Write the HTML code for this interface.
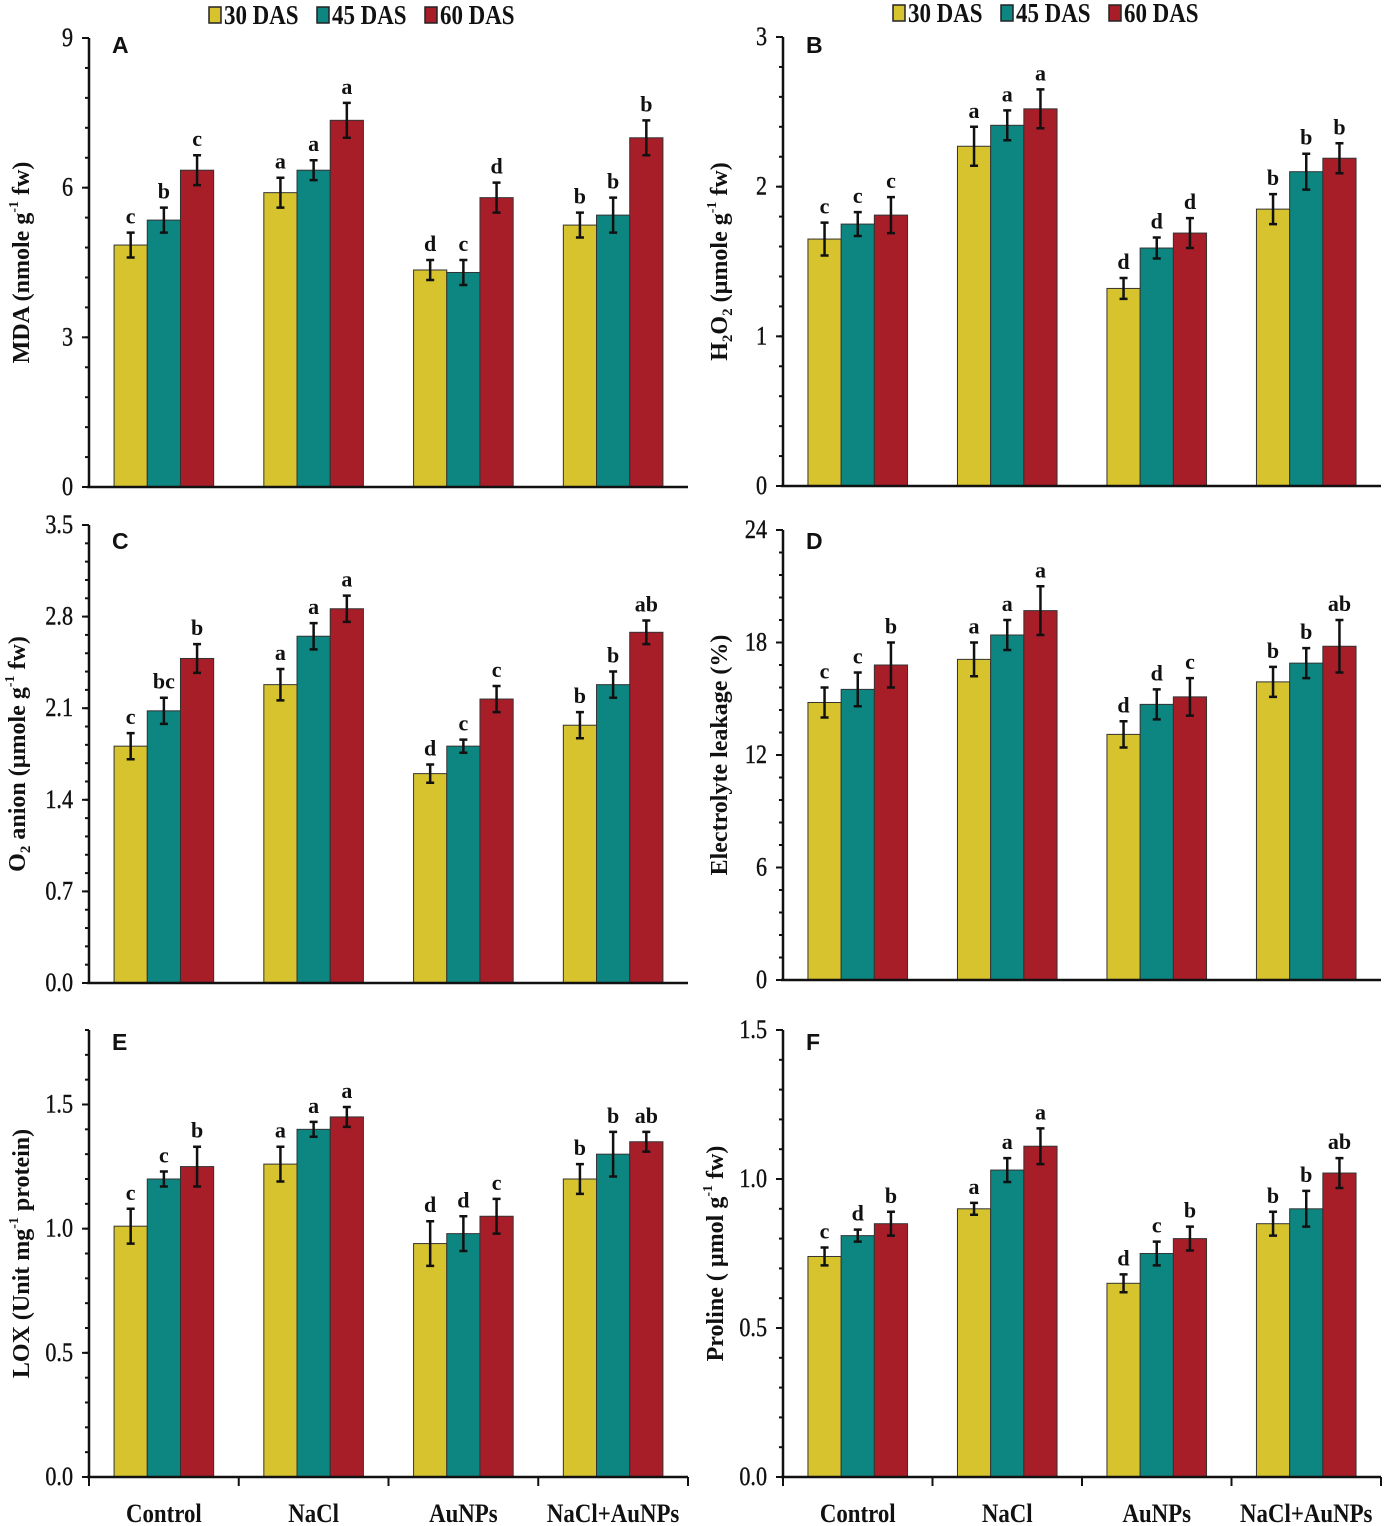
<!DOCTYPE html>
<html><head><meta charset="utf-8">
<style>
html,body{margin:0;padding:0;background:#fff;}
svg{display:block;}
text{font-family:"Liberation Serif",serif;}
</style></head>
<body>
<svg id="fig" width="1385" height="1526" viewBox="0 0 1385 1526" xmlns="http://www.w3.org/2000/svg"></svg>
<script>
const categories = ["Control","NaCl","AuNPs","NaCl+AuNPs"];
const seriesNames = ["30 DAS","45 DAS","60 DAS"];
const colors = ["#d6c32e","#0d8580","#a71e29"];

const valsA = [[4.85,5.9,4.35,5.25],[5.35,6.35,4.3,5.45],[6.35,7.35,5.8,7.0]];
const errA  = [[0.25,0.3,0.2,0.25],[0.25,0.2,0.25,0.35],[0.3,0.35,0.3,0.35]];
const letA  = [["c","a","d","b"],["b","a","c","b"],["c","a","d","b"]];

const valsB = [[1.65,2.27,1.32,1.85],[1.75,2.41,1.59,2.1],[1.81,2.52,1.69,2.19]];
const errB  = [[0.11,0.13,0.07,0.1],[0.08,0.1,0.07,0.12],[0.12,0.13,0.1,0.1]];
const letB  = [["c","a","d","b"],["c","a","d","b"],["c","a","d","b"]];

const valsC = [[1.81,2.28,1.6,1.97],[2.08,2.65,1.81,2.28],[2.48,2.86,2.17,2.68]];
const errC  = [[0.1,0.12,0.07,0.1],[0.1,0.1,0.05,0.1],[0.11,0.1,0.1,0.09]];
const letC  = [["c","a","d","b"],["bc","a","c","b"],["b","a","c","ab"]];

const valsD = [[14.8,17.1,13.1,15.9],[15.5,18.4,14.7,16.9],[16.8,19.7,15.1,17.8]];
const errD  = [[0.8,0.9,0.7,0.8],[0.9,0.8,0.8,0.8],[1.2,1.3,1.0,1.4]];
const letD  = [["c","a","d","b"],["c","a","d","b"],["b","a","c","ab"]];

const valsE = [[1.01,1.26,0.94,1.2],[1.2,1.4,0.98,1.3],[1.25,1.45,1.05,1.35]];
const errE  = [[0.07,0.07,0.09,0.06],[0.03,0.03,0.07,0.09],[0.08,0.04,0.07,0.04]];
const letE  = [["c","a","d","b"],["c","a","d","b"],["b","a","c","ab"]];

const valsF = [[0.74,0.9,0.65,0.85],[0.81,1.03,0.75,0.9],[0.85,1.11,0.8,1.02]];
const errF  = [[0.03,0.02,0.03,0.04],[0.02,0.04,0.04,0.06],[0.04,0.06,0.04,0.05]];
const letF  = [["c","a","d","b"],["d","a","c","b"],["b","a","b","ab"]];

const ticksA = ["0","3","6","9"];
const ticksB = ["0","1","2","3"];
const ticksC = ["0.0","0.7","1.4","2.1","2.8","3.5"];
const ticksD = ["0","6","12","18","24"];
const ticksE = ["0.0","0.5","1.0","1.5"];
const ticksF = ["0.0","0.5","1.0","1.5"];

const NS="http://www.w3.org/2000/svg";
const svg=document.getElementById('fig');
function mk(tag,attrs,parent,txt){const e=document.createElementNS(NS,tag);for(const k in attrs)e.setAttribute(k,attrs[k]);if(txt!==undefined)e.textContent=txt;(parent||svg).appendChild(e);return e;}

const panels=[
 {id:"a",label:"A",x0:89,x1:688,y0:487,yTop:38,max:9,ticks:ticksA,vals:valsA,err:errA,let:letA,title:"MDA (nmole g<tspan baseline-shift='super' font-size='14'>-1</tspan> fw)",tx:22},
 {id:"b",label:"B",x0:783,x1:1381,y0:486,yTop:37,max:3,ticks:ticksB,vals:valsB,err:errB,let:letB,title:"H<tspan baseline-shift='sub' font-size='15'>2</tspan>O<tspan baseline-shift='sub' font-size='15'>2</tspan> (µmole g<tspan baseline-shift='super' font-size='14'>-1</tspan> fw)",tx:720},
 {id:"c",label:"C",x0:89,x1:688,y0:983,yTop:525,max:3.5,ticks:ticksC,vals:valsC,err:errC,let:letC,title:"O<tspan baseline-shift='sub' font-size='15'>2</tspan> anion (µmole g<tspan baseline-shift='super' font-size='14'>-1</tspan> fw)",tx:18},
 {id:"d",label:"D",x0:783,x1:1381,y0:980,yTop:530,max:24,ticks:ticksD,vals:valsD,err:errD,let:letD,title:"Electrolyte leakage (%)",tx:720},
 {id:"e",label:"E",x0:89,x1:688,y0:1477,yTop:1030,max:1.8,ticks:ticksE,vals:valsE,err:errE,let:letE,title:"LOX (Unit mg<tspan baseline-shift='super' font-size='14'>-1</tspan> protein)",tx:22,bottom:true},
 {id:"f",label:"F",x0:783,x1:1381,y0:1477,yTop:1030,max:1.5,ticks:ticksF,vals:valsF,err:errF,let:letF,title:"Proline ( µmol g<tspan baseline-shift='super' font-size='14'>-1</tspan> fw)",tx:716,bottom:true}
];

panels.forEach(p=>{
  const g=mk('g',{});
  
  
  const step=parseFloat(p.ticks[1]);
  const yS=v=>p.y0-(v/p.max)*(p.y0-p.yTop);
  const groupW=(p.x1-p.x0)/categories.length;
  const bw=33.2;
  const xS=(ci,si)=>p.x0+groupW*ci+groupW/2-1.5*bw+si*bw;
  p.vals.forEach((ser,si)=>{
    ser.forEach((v,ci)=>{
      const x=xS(ci,si), y=yS(v);
      const r=mk('rect',{x:x,y:y,width:bw,height:p.y0-y,fill:colors[si],stroke:"#333",'stroke-width':1},g);
      
      
      const e=p.err[si][ci];
      const cx=x+bw/2, yt=yS(v+e), yb=yS(v-e);
      const eb=mk('path',{d:`M${cx},${yt}V${yb}M${cx-4},${yt}H${cx+4}M${cx-4},${yb}H${cx+4}`,stroke:"#111",'stroke-width':2.5,fill:"none"},g);
      
      
      const t=mk('text',{x:cx,y:yt-9,'text-anchor':'middle','font-size':22,'font-weight':'bold',fill:'#111'},g,p.let[si][ci]);
      
      
    });
  });
  const ax=mk('path',{d:`M${p.x0},${p.yTop}V${p.y0}`,stroke:"#111",'stroke-width':2.5},g);
  
  
  const xa=mk('path',{d:`M${p.x0-2},${p.y0}H${p.x1}`,stroke:"#111",'stroke-width':2.5},g);
  
  
  const minor=step/5;
  for(let v=0;v<=p.max+1e-9;v+=minor){
    const y=yS(v);
    mk('line',{x1:p.x0-4,x2:p.x0,y1:y,y2:y,stroke:"#111",'stroke-width':2},g);
  }
  p.ticks.forEach(tl=>{
    const y=yS(parseFloat(tl));
    mk('line',{x1:p.x0-7,x2:p.x0,y1:y,y2:y,stroke:"#111",'stroke-width':2},g);
    const t=mk('text',{x:(p.x0-16)/0.85,y:y+8,'text-anchor':'end','font-size':26,fill:'#111',transform:'scale(0.85,1)',stroke:'#111','stroke-width':0.4},g,tl);
    
    
  });
  const cy=(p.y0+p.yTop)/2;
  const tt=mk('text',{x:p.tx,y:cy,transform:`rotate(-90 ${p.tx} ${cy})`,'text-anchor':'middle','dominant-baseline':'central','font-size':24,'font-weight':'bold',fill:'#111'},g);
  tt.innerHTML=p.title;
  
  
  const pl=mk('text',{x:p.x0+23,y:p.id==='a'||p.id==='b'?53:(p.id==='c'||p.id==='d'?549:1050),'font-size':23,'font-weight':'bold',fill:'#111',style:'font-family:"Liberation Sans",sans-serif'},g,p.label);
  
  
  if(p.bottom){
    for(let i=0;i<=categories.length;i++){
      const x=p.x0+groupW*i;
      mk('line',{x1:x,x2:x,y1:p.y0,y2:p.y0+9,stroke:"#111",'stroke-width':2},g);
    }
    categories.forEach((c,ci)=>{
      const t=mk('text',{x:(p.x0+groupW*ci+groupW/2)/0.88,y:1522,'text-anchor':'middle','font-size':26,'font-weight':'bold',fill:'#111',transform:`scale(0.88,1)`},g,c);
      
      
    });
  }
});

[[209,24],[893,22]].forEach(([lx,ly])=>{
  const lg=mk('g',{});
  
  
  seriesNames.forEach((s,si)=>{
    const x=lx+si*108;
    const r=mk('rect',{x:x,y:ly-17,width:12,height:16,fill:colors[si],stroke:'#222','stroke-width':1.5},lg);
    
    
    const t=mk('text',{x:(x+15)/0.85,y:ly,'font-size':27,'font-weight':'bold',fill:'#111',transform:'scale(0.85,1)'},lg,s);
    
    
  });
});
</script>
</body></html>
